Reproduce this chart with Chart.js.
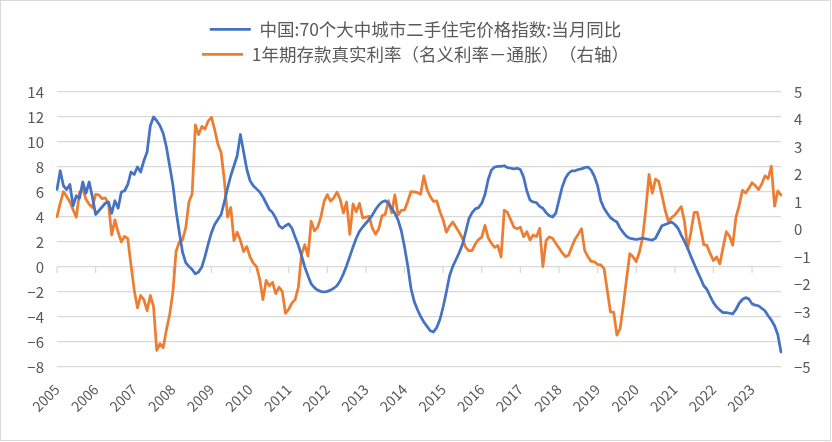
<!DOCTYPE html>
<html lang="zh-CN">
<head>
<meta charset="UTF-8">
<title>二手住宅价格指数与真实利率</title>
<script src="https://cdn.jsdelivr.net/npm/chart.js"></script>
<style>
    body {
        margin: 0;
        background: #fff;
    }
    .box {
        position: absolute;
        left: 0;
        top: 0;
        width: 829px;
        height: 439px;
        border: 1px solid #d9d9d9;
        background: #fff;
    }
    #chart {
        display: block;
    }
</style>
</head>
<body>

<div class="box">
    <canvas id="chart" width="829" height="439"></canvas>
</div>

<script>
    // годы на оси X (подписи только для января)
    const years = ['2005', '2006', '2007', '2008', '2009', '2010', '2011', '2012', '2013', '2014',
                   '2015', '2016', '2017', '2018', '2019', '2020', '2021', '2022', '2023'];

    // 中国:70个大中城市二手住宅价格指数:当月同比 (левая ось), 2005-01 … 2023-10
    const priceYoY = [
        6.2, 7.7, 6.5, 6.2, 6.6, 4.9, 5.7, 5.5, 6.8, 5.9, 6.8, 5.6,
        4.2, 4.5, 4.8, 5.1, 5.2, 4.3, 5.3, 4.7, 6.0, 6.1, 6.6, 7.6,
        7.4, 8.0, 7.6, 8.5, 9.2, 11.3, 12.0, 11.7, 11.3, 10.7, 9.6, 8.1,
        6.6, 4.5, 2.8, 1.2, 0.35, 0.05, -0.2, -0.55, -0.4, 0.0, 0.85, 1.85,
        2.75, 3.4, 3.8, 4.2, 5.2, 6.3, 7.3, 8.1, 8.9, 10.6, 9.2, 7.8,
        6.9, 6.5, 6.25, 6.0, 5.6, 5.1, 4.6, 4.35, 3.9, 3.3, 3.1, 3.3,
        3.45, 3.1, 2.4, 1.75, 0.9, 0.0, -0.7, -1.35, -1.65, -1.85, -1.95, -2.0,
        -1.95, -1.85, -1.7, -1.5, -1.1, -0.55, 0.1, 0.85, 1.6, 2.3, 2.85, 3.2,
        3.5, 3.8, 4.15, 4.6, 4.95, 5.2, 5.3, 5.1, 4.7, 4.3, 3.75, 2.9,
        1.6, 0.1, -1.7, -2.75, -3.4, -3.95, -4.4, -4.75, -5.1, -5.2, -4.85, -4.2,
        -3.2, -2.0, -0.7, 0.05, 0.6, 1.15, 1.8, 2.8, 3.85, 4.35, 4.65, 4.75,
        5.1, 5.8, 7.0, 7.75, 8.0, 8.05, 8.05, 8.1, 7.95, 7.9, 7.85, 7.9,
        7.8, 7.2, 6.1, 5.35, 5.2, 5.15, 4.85, 4.7, 4.35, 4.1, 4.0, 4.3,
        5.35, 6.4, 7.1, 7.5, 7.7, 7.7, 7.8, 7.85, 7.95, 8.0, 7.75, 7.25,
        6.5, 5.3, 4.7, 4.3, 3.95, 3.75, 3.6, 3.1, 2.75, 2.45, 2.3, 2.25,
        2.2, 2.25, 2.3, 2.25, 2.2, 2.15, 2.3, 2.8, 3.3, 3.4, 3.5, 3.6,
        3.4, 3.1, 2.55, 2.05, 1.5, 0.85, 0.25, -0.35, -0.9, -1.5, -1.8, -2.35,
        -2.85, -3.2, -3.45, -3.65, -3.65, -3.7, -3.75, -3.4, -2.9, -2.6, -2.45, -2.55,
        -2.95, -3.05, -3.1, -3.3, -3.5, -3.9, -4.25, -4.7, -5.4, -6.8
    ];

    // 1年期存款真实利率 (правая ось)
    const realRate = [
        0.47, 0.95, 1.38, 1.2, 1.0, 0.72, 0.45, 1.35, 1.48, 1.1, 0.92, 0.8,
        1.28, 1.26, 1.12, 1.15, 0.92, -0.2, 0.35, -0.1, -0.45, -0.25, -0.33, -1.3,
        -2.2, -2.85, -2.4, -2.55, -2.95, -2.4, -2.8, -4.4, -4.15, -4.3, -3.65, -3.1,
        -2.3, -0.8, -0.45, -0.38, 0.05, 1.0, 1.3, 3.8, 3.45, 3.75, 3.65, 3.95,
        4.08, 3.63, 3.1, 2.8, 1.8, 0.45, 0.8, -0.4, -0.1, -0.4, -0.8, -0.62,
        -1.0, -1.22, -1.35, -1.8, -2.55, -1.85, -2.05, -1.92, -2.33, -2.1, -2.25, -3.05,
        -2.9, -2.68, -2.55, -2.1, -0.9, -0.55, -0.97, 0.3, -0.05, 0.08, 0.45, 1.02,
        1.27, 1.03, 1.15, 1.36, 1.1, 0.6, 1.0, -0.18, 0.93, 0.65, 0.95, 0.42,
        0.45, 0.48, 0.05, -0.17, 0.02, 0.5, 0.55, 1.05, 0.6, 1.26, 0.53, 0.7,
        0.71, 1.02, 1.38, 1.37, 1.34, 1.28, 1.95, 1.45, 1.2, 1.02, 1.04, 0.65,
        0.35, -0.1, 0.12, 0.27, 0.08, -0.1, -0.32, -0.65, -0.77, -0.77, -0.52, -0.37,
        -0.28, 0.15, -0.3, -0.5, -0.65, -0.58, -1.0, 0.7, 0.62, 0.35, 0.08, 0.03,
        0.08, -0.26, -0.08, -0.38, -0.2, -0.26, 0.04, -1.35, -0.4, -0.27, -0.32, -0.5,
        -0.67, -0.85, -0.99, -0.93, -0.63, -0.35, -0.17, 0.03, -0.77, -0.99, -1.16, -1.17,
        -1.27, -1.29, -1.42, -2.2, -3.0, -3.0, -3.84, -3.6, -2.75, -1.8, -0.88, -0.99,
        -1.17, -0.82, -0.3, 0.75, 2.0, 1.32, 1.83, 1.75, 1.25, 0.7, 0.3, 0.43,
        0.53, 0.68, 0.83, 0.3, -0.7, -0.1, 0.62, 0.62, 0.05, -0.55, -0.58, -0.88,
        -1.13, -1.0, -1.25, -0.65, -0.08, -0.24, -0.57, 0.45, 0.87, 1.42, 1.33, 1.5,
        1.7, 1.6, 1.45, 1.65, 1.95, 1.85, 2.3, 0.85, 1.4, 1.25
    ];

    // названия рядов (между скобками — пробел нулевой ширины, чтобы не сжимались)
    const seriesNames = ['中国:70个大中城市二手住宅价格指数:当月同比', '1年期存款真实利率（名义利率－通胀）\u200B（右轴）'];

    // месяцы по годам
    const months = [];
    years.forEach(y => {
        for (let m = 1; m <= 12; m++) months.push(y + '-' + String(m).padStart(2, '0'));
    });
    months.length = priceYoY.length;

    const grey = '#595959';
    const gridColor = '#d9d9d9';
    Chart.defaults.font.family = '"Noto Sans CJK SC", "Noto Sans", sans-serif';

    const minus = v => (v < 0 ? '−' + Math.abs(v) : String(v));

    // отступ под легендой
    const legendGap = {
        id: 'legendGap',
        beforeInit(chart) {
            const fit = chart.legend.fit;
            chart.legend.fit = function () {
                fit.call(this);
                this.height += 19;
            };
        }
    };

    // засечки годов на нулевой линии
    const zeroTicks = {
        id: 'zeroTicks',
        beforeDatasetsDraw(chart) {
            const {ctx, scales: {x, y}} = chart;
            const y0 = y.getPixelForValue(0);
            ctx.save();
            ctx.strokeStyle = gridColor;
            ctx.lineWidth = 1.25;
            ctx.beginPath();
            for (let i = 0; i < months.length; i += 12) {
                const px = x.getPixelForValue(i);
                ctx.moveTo(px, y0);
                ctx.lineTo(px, y0 + 6);
            }
            ctx.stroke();
            ctx.restore();
        }
    };

    new Chart(document.getElementById('chart'), {
        type: 'line',
        data: {
            labels: months,
            datasets: [{
                label: seriesNames[0],
                data: priceYoY,
                borderColor: '#4472C4',
                backgroundColor: '#4472C4',
                borderWidth: 2.75,
                yAxisID: 'y'
            }, {
                label: seriesNames[1],
                data: realRate,
                borderColor: '#ED7D31',
                backgroundColor: '#ED7D31',
                borderWidth: 2.75,
                yAxisID: 'y1'
            }]
        },
        options: {
            responsive: false,
            animation: false,
            layout: {padding: {top: 12, left: 0, right: 0, bottom: 0}},
            elements: {
                point: {radius: 0},
                line: {tension: 0, borderJoinStyle: 'round', borderCapStyle: 'round'}
            },
            plugins: {
                tooltip: {enabled: false},
                legend: {
                    position: 'top',
                    labels: {
                        usePointStyle: true,
                        pointStyle: 'line',
                        pointStyleWidth: 41,
                        padding: 7.5,
                        color: grey,
                        font: {size: 17.5}
                    }
                }
            },
            scales: {
                x: {
                    grid: {display: false},
                    border: {display: false},
                    ticks: {
                        autoSkip: false,
                        minRotation: 45,
                        maxRotation: 45,
                        padding: 6,
                        color: grey,
                        font: {size: 14},
                        callback: (v, i) => (i % 12 === 0 ? months[i].slice(0, 4) : null)
                    },
                    afterFit: s => { s.height = 73; }
                },
                y: {
                    position: 'left',
                    min: -8,
                    max: 14,
                    ticks: {stepSize: 2, padding: 13, color: grey, font: {size: 15}, callback: minus},
                    grid: {color: gridColor, lineWidth: 1.25, drawTicks: false},
                    border: {display: false},
                    afterFit: s => { s.width = 56; }
                },
                y1: {
                    position: 'right',
                    min: -5,
                    max: 5,
                    ticks: {stepSize: 1, padding: 13, color: grey, font: {size: 15}, callback: minus},
                    grid: {drawOnChartArea: false, drawTicks: false},
                    border: {display: false},
                    afterFit: s => { s.width = 49; }
                }
            }
        },
        plugins: [legendGap, zeroTicks]
    });
</script>

</body>
</html>
